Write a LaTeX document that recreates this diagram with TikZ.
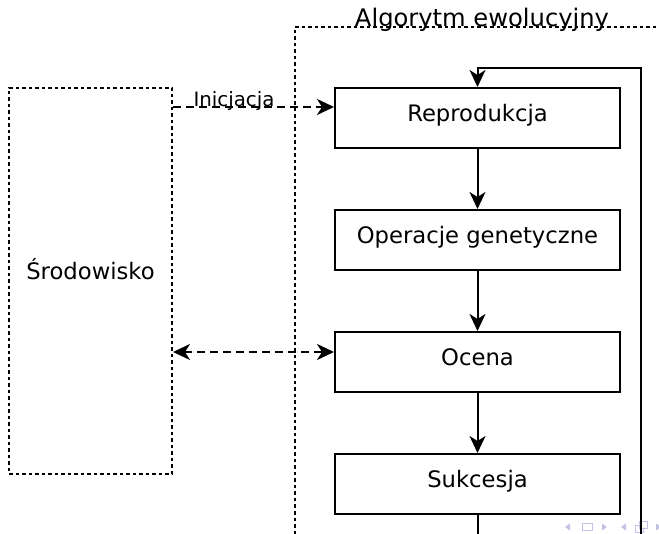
\documentclass[tikz,border=0pt]{standalone}
\usepackage{fontspec}
\setmainfont{DejaVu Sans}
\usetikzlibrary{arrows.meta}
\definecolor{navc}{rgb}{0.76,0.76,0.9}
\begin{document}
\begin{tikzpicture}[x=1pt,y=-1pt,
  box/.style={draw, line width=2pt, minimum width=285pt, minimum height=60pt, inner sep=0pt,
    font=\fontsize{22.7}{27}\selectfont, text height=12pt, text depth=5pt},
  frame/.style={line width=2pt, dash pattern=on 3.5pt off 3pt},
  tip/.tip={Stealth[length=17pt,width=16pt,inset=5pt]},
  flow/.style={line width=2pt, -tip},
  dflow/.style={line width=2pt, dash pattern=on 7.5pt off 5.5pt}]
\useasboundingbox (0,0) rectangle (659,534);
\clip (0,0) rectangle (659,534);

% environment box
\node[draw, frame, minimum width=163pt, minimum height=386pt, inner sep=0pt,
  font=\fontsize{22.7}{27}\selectfont, text height=11pt, text depth=13pt] (env) at (90.5,281) {Środowisko};

% algorithm frame
\coordinate (fb) at (295,560);
\coordinate (ft) at (295,27);
\coordinate (fr) at (680,27);
\draw[frame] (fb) -- (ft) -- (fr);
\node[font=\fontsize{24.2}{29}\selectfont, anchor=base, inner sep=0pt] (title) at (482,27) {Algorytm ewolucyjny};

% boxes
\node[box] (rep) at (477.5,118) {Reprodukcja};
\node[box] (gen) at (477.5,240) {Operacje genetyczne};
\node[box] (oce) at (477.5,362) {Ocena};
\node[box] (suk) at (477.5,484) {Sukcesja};

% navigation symbols
\fill[navc] (565,527) -- (570,523.5) -- (570,530.5) -- cycle;
\draw[navc, line width=1pt] (582,523.5) rectangle (592,530);
\fill[navc] (607,527) -- (602,523.5) -- (602,530.5) -- cycle;
\fill[navc] (621,527) -- (626,523.5) -- (626,530.5) -- cycle;
\draw[navc, line width=1pt] (635,525) rectangle (643,532);
\draw[navc, line width=1pt, fill=white] (639,521) rectangle (647,528);
\fill[navc] (661,527) -- (656,523.5) -- (656,530.5) -- cycle;

% connectors
\draw[dflow, -tip] (env.east |- 0,107) -- (rep.west |- 0,107);
\node[font=\fontsize{19.8}{24}\selectfont, anchor=base, inner sep=0pt] (ini) at (234,107) {Inicjacja};
\draw[dflow, tip-tip] (env.east |- 0,352) -- (oce.west |- 0,352);

\draw[flow] (rep) -- (gen);
\draw[flow] (gen) -- (oce);
\draw[flow] (oce) -- (suk);
\draw[flow] (suk.south) -- (suk.south |- 0,560) -- (641,560) -- (641,68) -- (rep.north |- 0,68) -- (rep.north);
\end{tikzpicture}
\end{document}
